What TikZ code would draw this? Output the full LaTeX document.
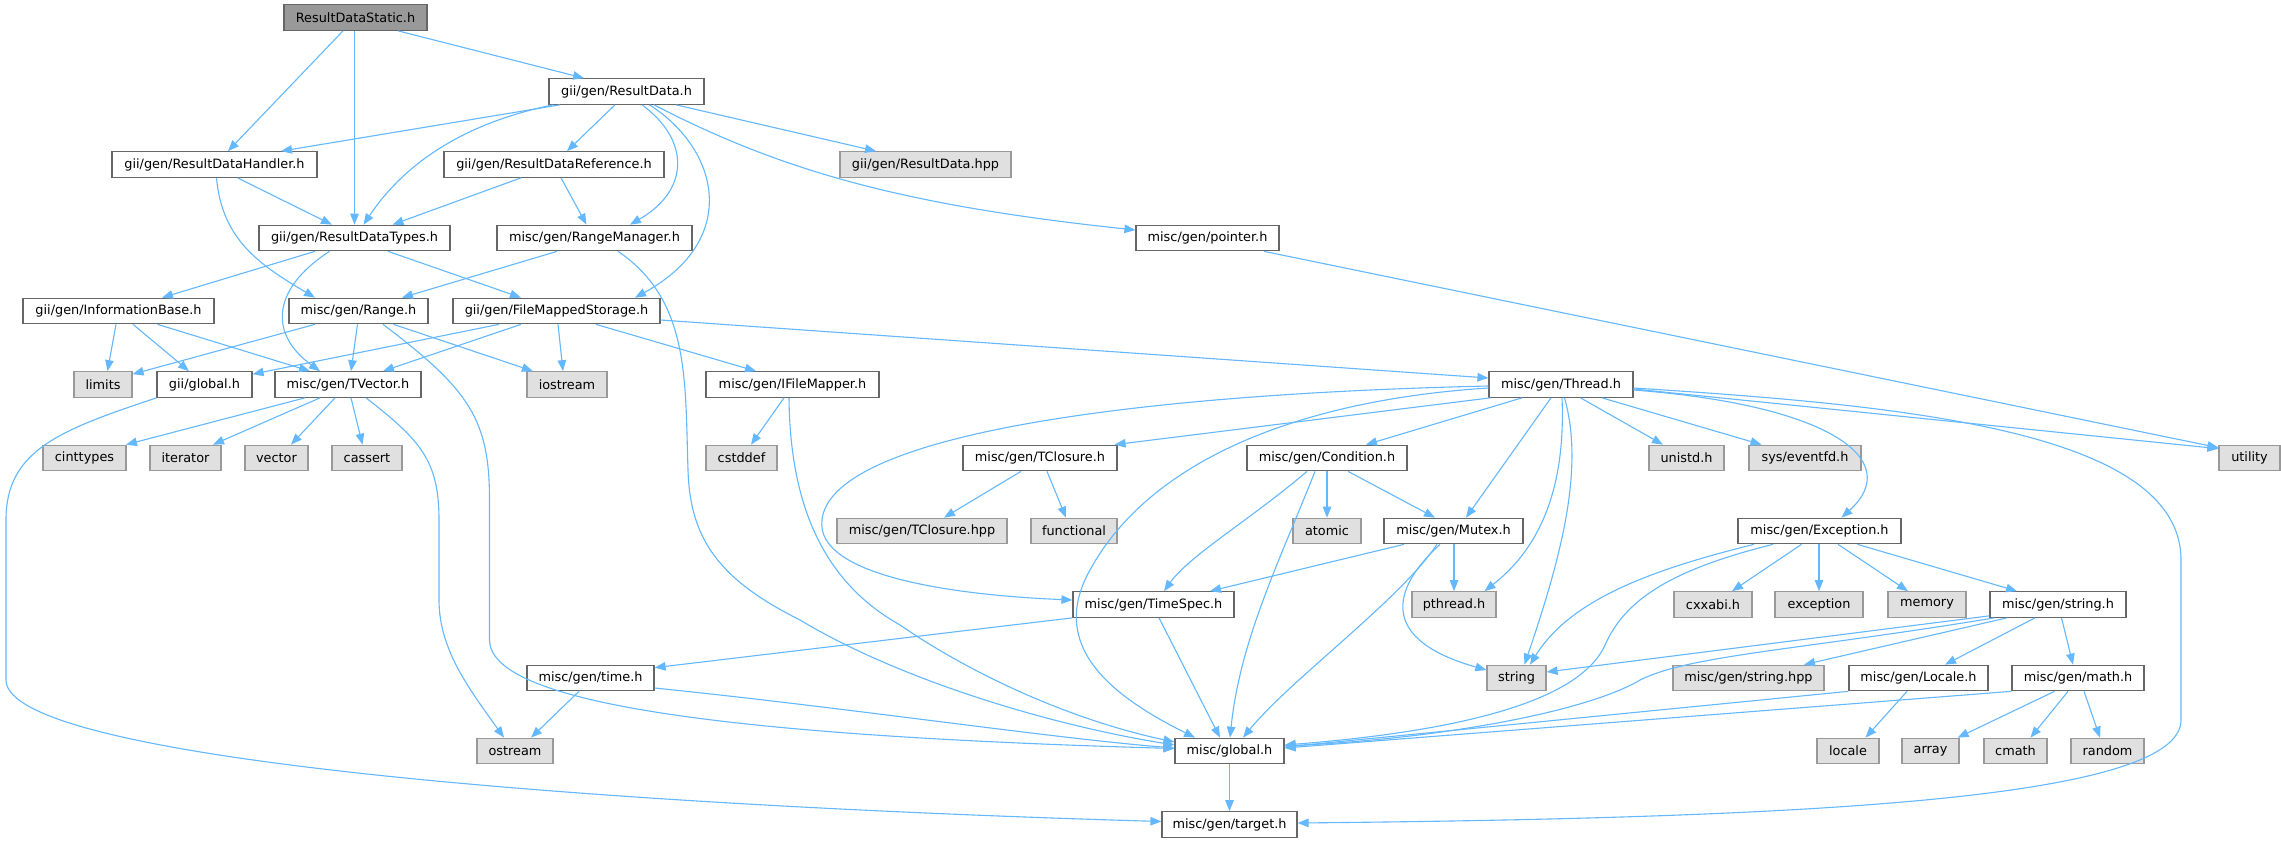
\documentclass[tikz,border=0pt]{standalone}
\usepackage{fontspec}
\setmainfont{DejaVu Sans}
\usetikzlibrary{arrows.meta}
\definecolor{edgeblue}{HTML}{63B8FF}
\definecolor{nodeborder}{HTML}{666666}
\definecolor{extborder}{HTML}{999999}
\definecolor{extfill}{HTML}{E0E0E0}
\definecolor{rootfill}{HTML}{999999}
\tikzset{
  nd/.style={draw=nodeborder, fill=white, line width=1.2pt, minimum height=25.5pt, inner sep=0pt,
    font=\fontsize{12.85}{15}\selectfont, text=black},
  ext/.style={nd, draw=extborder, fill=extfill},
  rootnd/.style={nd, fill=rootfill},
  edge/.style={draw=edgeblue, line width=1.1pt, -{Triangle[length=11pt,width=8.5pt]}}
}
\begin{document}
\begin{tikzpicture}[x=1pt,y=-1pt]
\fill[white] (0,0) rectangle (2281,843);
\useasboundingbox (0,0) rectangle (2281,843);
% nodes
\node[rootnd, minimum width=143pt] (rds) at (355.5,17.5) {ResultDataStatic.h};
\node[nd, minimum width=155pt] (rd) at (626.5,91.5) {gii/gen/ResultData.h};
\node[nd, minimum width=205pt] (rdh) at (214.5,164.5) {gii/gen/ResultDataHandler.h};
\node[nd, minimum width=220pt] (rdr) at (554,164.5) {gii/gen/ResultDataReference.h};
\node[ext, minimum width=171pt] (rdhpp) at (925.5,164.5) {gii/gen/ResultData.hpp};
\node[nd, minimum width=191pt] (rdt) at (354.5,238) {gii/gen/ResultDataTypes.h};
\node[nd, minimum width=195pt] (rm) at (594.5,238) {misc/gen/RangeManager.h};
\node[nd, minimum width=143pt] (ptr) at (1207.5,238) {misc/gen/pointer.h};
\node[nd, minimum width=191pt] (ib) at (118.5,311) {gii/gen/InformationBase.h};
\node[nd, minimum width=139pt] (rng) at (358.5,311) {misc/gen/Range.h};
\node[nd, minimum width=207pt] (fms) at (556.5,311) {gii/gen/FileMappedStorage.h};
\node[ext, minimum width=58pt] (lim) at (103,384.5) {limits};
\node[nd, minimum width=95pt] (gg) at (204.5,384.5) {gii/global.h};
\node[nd, minimum width=146pt] (tv) at (348,384.5) {misc/gen/TVector.h};
\node[ext, minimum width=80pt] (ios) at (567,384.5) {iostream};
\node[nd, minimum width=173pt] (ifm) at (792.5,384.5) {misc/gen/IFileMapper.h};
\node[nd, minimum width=144pt] (thr) at (1561,384.5) {misc/gen/Thread.h};
\node[ext, minimum width=83pt] (cint) at (84.5,458) {cinttypes};
\node[ext, minimum width=71pt] (iter) at (185.5,458) {iterator};
\node[ext, minimum width=63pt] (vec) at (276.5,458) {vector};
\node[ext, minimum width=70pt] (cas) at (367,458) {cassert};
\node[ext, minimum width=71pt] (csd) at (741.5,458) {cstddef};
\node[nd, minimum width=154pt] (tcl) at (1040,458) {misc/gen/TClosure.h};
\node[nd, minimum width=160pt] (cond) at (1327,458) {misc/gen/Condition.h};
\node[ext, minimum width=75pt] (uni) at (1686.5,458) {unistd.h};
\node[ext, minimum width=112pt] (evt) at (1805,458) {sys/eventfd.h};
\node[ext, minimum width=61pt] (util) at (2249.5,458) {utility};
\node[ext, minimum width=170pt] (tclh) at (922,531) {misc/gen/TClosure.hpp};
\node[ext, minimum width=86pt] (func) at (1074,531) {functional};
\node[ext, minimum width=68pt] (atom) at (1327,531) {atomic};
\node[nd, minimum width=139pt] (mtx) at (1453.5,531) {misc/gen/Mutex.h};
\node[nd, minimum width=163pt] (exc) at (1819.5,531) {misc/gen/Exception.h};
\node[nd, minimum width=161pt] (ts) at (1153.5,604.5) {misc/gen/TimeSpec.h};
\node[ext, minimum width=84pt] (pth) at (1454,604.5) {pthread.h};
\node[ext, minimum width=78pt] (cxx) at (1713,604.5) {cxxabi.h};
\node[ext, minimum width=88pt] (excs) at (1819,604.5) {exception};
\node[ext, minimum width=78pt] (mem) at (1927,604.5) {memory};
\node[nd, minimum width=136pt] (strh) at (2058,604.5) {misc/gen/string.h};
\node[nd, minimum width=127pt] (tim) at (590.5,678) {misc/gen/time.h};
\node[ext, minimum width=59pt] (str) at (1516.5,678) {string};
\node[ext, minimum width=151pt] (strhpp) at (1748.5,678) {misc/gen/string.hpp};
\node[nd, minimum width=139pt] (loc) at (1918.5,678) {misc/gen/Locale.h};
\node[nd, minimum width=132pt] (mth) at (2078,678) {misc/gen/math.h};
\node[ext, minimum width=76pt] (ost) at (515,751) {ostream};
\node[nd, minimum width=109pt] (glb) at (1229.5,751) {misc/global.h};
\node[ext, minimum width=62pt] (locl) at (1848,751) {locale};
\node[ext, minimum width=57pt] (arr) at (1930.5,751) {array};
\node[ext, minimum width=63pt] (cm) at (2015.5,751) {cmath};
\node[ext, minimum width=73pt] (rnd) at (2107.5,751) {random};
\node[nd, minimum width=135pt] (tgt) at (1229.5,824.5) {misc/gen/target.h};
% edges
\draw[edge] ([xshift=-12.5pt]rds.south) -- ([xshift=13.5pt]rdh.north);
\draw[edge] ([xshift=-1pt]rds.south) -- (rdt.north);
\draw[edge] ([xshift=42.5pt]rds.south) -- ([xshift=-42.5pt]rd.north);
\draw[edge] ([xshift=-66.5pt]rd.south) -- ([xshift=66.5pt]rdh.north);
\draw[edge] ([xshift=-73.5pt]rd.south) .. controls (455,125) and (400,170) .. ([xshift=9pt]rdt.north);
\draw[edge] ([xshift=-11.5pt]rd.south) -- ([xshift=13pt]rdr.north);
\draw[edge] ([xshift=15.5pt]rd.south) .. controls (690,140) and (690,190) .. ([xshift=35.5pt]rm.north);
\draw[edge] ([xshift=23pt]rd.south) .. controls (720,150) and (740,240) .. ([xshift=78.5pt]fms.north);
\draw[edge] ([xshift=49.5pt]rd.south) -- ([xshift=-49.5pt]rdhpp.north);
\draw[edge] ([xshift=27.5pt]rd.south) .. controls (780,170) and (900,205) .. ([yshift=8pt]ptr.west);
\draw[edge] ([xshift=23pt]rdh.south) -- ([xshift=-22.5pt]rdt.north);
\draw[edge] ([xshift=2pt]rdh.south) .. controls (222,240) and (260,265) .. ([xshift=-43.5pt]rng.north);
\draw[edge] ([xshift=-33pt]rdr.south) -- ([xshift=38pt]rdt.north);
\draw[edge] ([xshift=7pt]rdr.south) -- ([xshift=-8pt]rm.north);
\draw[edge] ([xshift=-39.5pt]rdt.south) -- ([xshift=43.5pt]ib.north);
\draw[edge] ([xshift=-25pt]rdt.south) .. controls (270,290) and (270,335) .. ([xshift=-28pt]tv.north);
\draw[edge] ([xshift=33.5pt]rdt.south) -- ([xshift=-35.5pt]fms.north);
\draw[edge] ([xshift=-37.5pt]rm.south) -- ([xshift=43.5pt]rng.north);
\draw[edge] ([xshift=23.5pt]rm.south) .. controls (690,300) and (685,380) .. (688,470) .. controls (690,540) and (720,580) .. (800,620) .. controls (900,680) and (1050,725) .. ([yshift=6pt]glb.west);
\draw[edge] ([xshift=56.5pt]ptr.south) -- ([yshift=-3pt]util.north west);
\draw[edge] ([xshift=-2.5pt]ib.south) -- ([xshift=4.5pt]lim.north);
\draw[edge] ([xshift=14.5pt]ib.south) -- ([xshift=-15.5pt]gg.north);
\draw[edge] ([xshift=39pt]ib.south) -- ([xshift=-38pt]tv.north);
\draw[edge] ([xshift=-43.5pt]rng.south) -- ([yshift=-3pt]lim.north east);
\draw[edge] ([xshift=-1pt]rng.south) -- ([xshift=3pt]tv.north);
\draw[edge] ([xshift=35pt]rng.south) -- ([xshift=-34pt]ios.north);
\draw[edge] ([xshift=24.5pt]rng.south) .. controls (470,390) and (489.5,420) .. (489.5,500) -- (489.5,640) .. controls (490,700) and (700,735) .. ([yshift=2.5pt]glb.west);
\draw[edge] ([xshift=-57.5pt]fms.south) -- ([yshift=-3pt]gg.north east);
\draw[edge] ([xshift=-35.5pt]fms.south) -- ([xshift=35pt]tv.north);
\draw[edge] ([xshift=1.5pt]fms.south) -- ([xshift=-4pt]ios.north);
\draw[edge] ([xshift=39.5pt]fms.south) -- ([xshift=-36.5pt]ifm.north);
\draw[edge] ([yshift=-9pt]fms.east) -- ([yshift=6.5pt]thr.west);
\draw[edge] ([xshift=-48pt]gg.south) .. controls (60,430) and (6,450) .. (6,520) -- (6,680) .. controls (6,760) and (600,805) .. ([yshift=3pt]tgt.west);
\draw[edge] ([xshift=-43pt]tv.south) -- ([xshift=41.5pt]cint.north);
\draw[edge] ([xshift=-28pt]tv.south) -- ([xshift=27.5pt]iter.north);
\draw[edge] ([xshift=-13pt]tv.south) -- ([xshift=14.5pt]vec.north);
\draw[edge] ([xshift=3pt]tv.south) -- ([xshift=-4.5pt]cas.north);
\draw[edge] ([xshift=18pt]tv.south) .. controls (420,440) and (439,460) .. (439,520) -- (439,600) .. controls (439,650) and (470,690) .. ([xshift=-11pt]ost.north);
\draw[edge] ([xshift=-8.5pt]ifm.south) -- ([xshift=9.5pt]csd.north);
\draw[edge] ([xshift=-3.5pt]ifm.south) .. controls (790,500) and (820,580) .. (900,625) .. controls (980,680) and (1080,722) .. ([yshift=9pt]glb.west);
\draw[edge] ([yshift=-3.5pt]thr.west) .. controls (1300,400) and (1150,460) .. (1090,570) .. controls (1045,650) and (1120,700) .. ([xshift=-34.5pt]glb.north);
\draw[edge] ([yshift=-1.5pt]thr.west) .. controls (1100,395) and (830,440) .. (822,520) .. controls (815,575) and (950,595) .. ([yshift=4.5pt]ts.west);
\draw[edge] ([xshift=2pt]thr.south west) -- ([xshift=-3pt]tcl.north east);
\draw[edge] ([xshift=-39pt]thr.south) -- ([xshift=39pt]cond.north);
\draw[edge] ([xshift=-10pt]thr.south) -- ([xshift=12.5pt]mtx.north);
\draw[edge] ([xshift=1pt]thr.south) .. controls (1565,470) and (1550,540) .. ([xshift=30.5pt]pth.north);
\draw[edge] ([xshift=3.5pt]thr.south) .. controls (1585,470) and (1560,560) .. ([xshift=8pt]str.north);
\draw[edge] ([xshift=19.5pt]thr.south) -- ([xshift=-23.5pt]uni.north);
\draw[edge] ([xshift=41pt]thr.south) -- ([xshift=-43.5pt]evt.north);
\draw[edge] ([yshift=-5.5pt]thr.east) .. controls (1830,405) and (1905,460) .. ([xshift=22pt]exc.north);
\draw[edge] ([yshift=-4.5pt]thr.east) -- ([yshift=-4pt]util.north west);
\draw[edge] ([yshift=-3.5pt]thr.east) .. controls (1900,405) and (2181,430) .. (2181,560) -- (2181,720) .. controls (2181,800) and (1800,818) .. ([yshift=1.5pt]tgt.east);
\draw[edge] ([xshift=-19pt]tcl.south) -- ([xshift=22pt]tclh.north);
\draw[edge] ([xshift=7pt]tcl.south) -- ([xshift=-8pt]func.north);
\draw[edge] ([xshift=-20pt]cond.south) .. controls (1250,520) and (1190,555) .. ([xshift=10.5pt]ts.north);
\draw[edge] ([xshift=-12pt]cond.south) .. controls (1280,560) and (1240,640) .. ([xshift=0.5pt]glb.north);
\draw[edge] (cond.south) -- (atom.north);
\draw[edge] ([xshift=21pt]cond.south) -- ([xshift=-18.5pt]mtx.north);
\draw[edge] ([xshift=-49.5pt]mtx.south) -- ([xshift=56.5pt]ts.north);
\draw[edge] ([xshift=0.5pt]mtx.south) -- (pth.north);
\draw[edge] ([xshift=-13.5pt]mtx.south) .. controls (1390,590) and (1380,640) .. ([yshift=8pt]str.west);
\draw[edge] ([xshift=-16.5pt]mtx.south) .. controls (1400,600) and (1290,680) .. ([xshift=13.5pt]glb.north);
\draw[edge] ([xshift=-65.5pt]exc.south) .. controls (1650,570) and (1570,600) .. ([xshift=13.5pt]str.north);
\draw[edge] ([xshift=-46.5pt]exc.south) .. controls (1670,570) and (1625,600) .. (1605,645) .. controls (1585,690) and (1500,728) .. ([yshift=6pt]glb.east);
\draw[edge] ([xshift=-18pt]exc.south) -- ([xshift=19pt]cxx.north);
\draw[edge] ([xshift=-0.5pt]exc.south) -- (excs.north);
\draw[edge] ([xshift=18.5pt]exc.south) -- ([xshift=-19pt]mem.north);
\draw[edge] ([xshift=38pt]exc.south) -- ([xshift=-41pt]strh.north);
\draw[edge] ([xshift=5.5pt]ts.south) -- ([xshift=-9.5pt]glb.north);
\draw[edge] (ts.south west) -- ([yshift=-3pt]tim.north east);
\draw[edge] ([yshift=2pt]strh.south west) -- ([yshift=6pt]str.east);
\draw[edge] ([xshift=5pt]strh.south west) .. controls (1800,650) and (1690,655) .. (1640,680) .. controls (1590,710) and (1450,738) .. ([yshift=5pt]glb.east);
\draw[edge] ([xshift=-51pt]strh.south) -- ([xshift=55.5pt]strhpp.north);
\draw[edge] ([xshift=-23pt]strh.south) -- ([xshift=26.5pt]loc.north);
\draw[edge] ([xshift=3.5pt]strh.south) -- ([xshift=-5pt]mth.north);
\draw[edge] ([yshift=-10pt]tim.east) .. controls (850,708) and (1050,738) .. ([yshift=3pt]glb.west);
\draw[edge] ([xshift=-11.5pt]tim.south) -- ([xshift=16pt]ost.north);
\draw[edge] (loc.south west) -- ([yshift=4pt]glb.east);
\draw[edge] ([xshift=-11.5pt]loc.south) -- ([xshift=17.5pt]locl.north);
\draw[edge] (mth.south west) -- ([yshift=3pt]glb.east);
\draw[edge] ([xshift=-23.5pt]mth.south) -- ([xshift=-2pt]arr.north east);
\draw[edge] ([xshift=-10pt]mth.south) -- ([xshift=15pt]cm.north);
\draw[edge] ([xshift=6pt]mth.south) -- ([xshift=-7.5pt]rnd.north);
\draw[edge] (glb.south) -- (tgt.north);
\end{tikzpicture}
\end{document}
